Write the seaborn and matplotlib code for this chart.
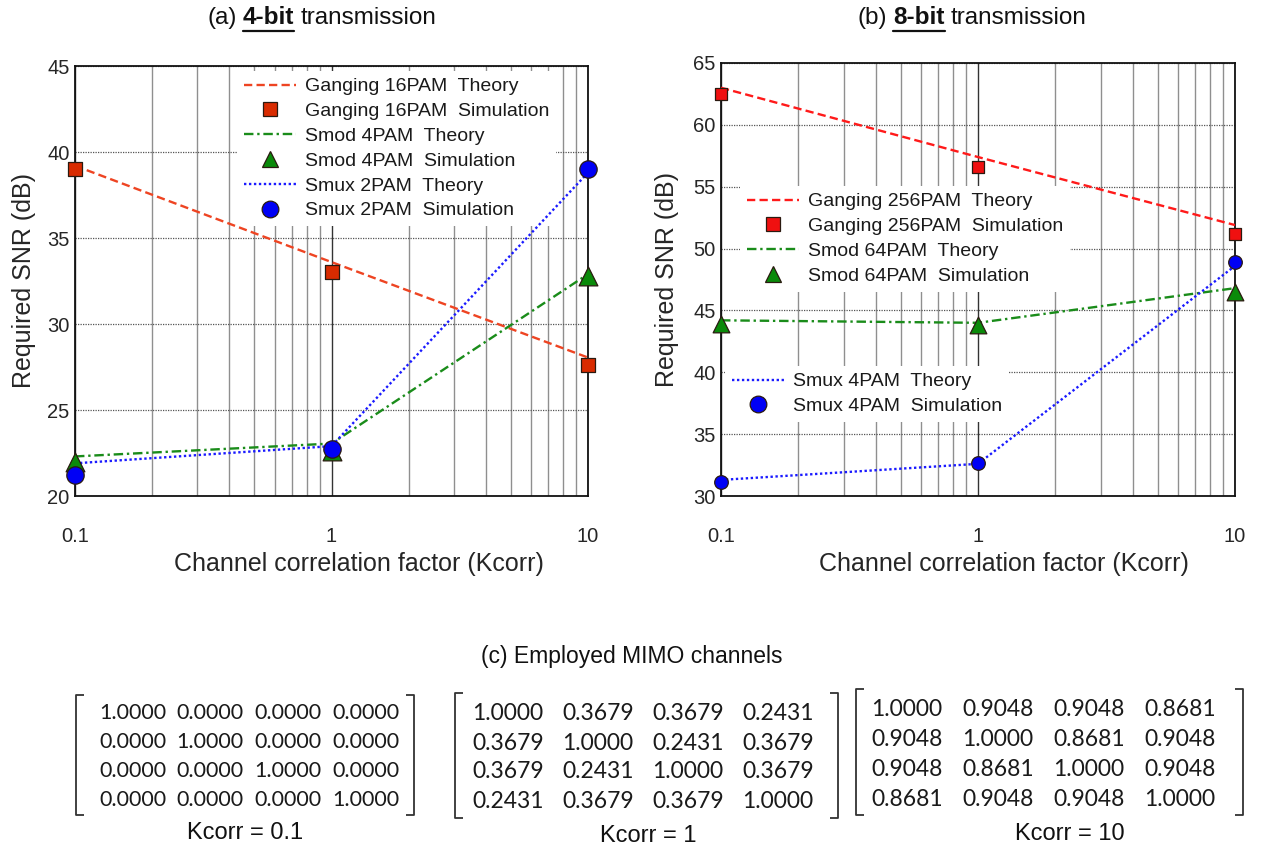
import numpy as np
import pandas as pd
import matplotlib
matplotlib.use("Agg")
import matplotlib.pyplot as plt
import seaborn as sns
from matplotlib.lines import Line2D
from matplotlib.transforms import IdentityTransform

# ---------------- data ----------------
kcorr = [0.1, 1, 10]

a_gang_theory = [39.2, 33.6, 28.05]
a_gang_sim = [39.0, 33.0, 27.6]
a_smod_theory = [22.3, 23.05, 32.9]
a_smod_sim = [22.0, 22.6, 32.8]
a_smux_theory = [21.9, 22.9, 38.8]
a_smux_sim = [21.2, 22.75, 39.0]

b_gang_theory = [63.0, 57.4, 51.9]
b_gang_sim = [62.5, 56.6, 51.2]
b_smod_theory = [44.2, 44.0, 46.8]
b_smod_sim = [43.9, 43.8, 46.5]
b_smux_theory = [31.3, 32.6, 48.6]
b_smux_sim = [31.1, 32.7, 48.9]

a_labels = ["Ganging 16PAM  Theory", "Ganging 16PAM  Simulation",
            "Smod 4PAM  Theory", "Smod 4PAM  Simulation",
            "Smux 2PAM  Theory", "Smux 2PAM  Simulation"]
b_labels = ["Ganging 256PAM  Theory", "Ganging 256PAM  Simulation",
            "Smod 64PAM  Theory", "Smod 64PAM  Simulation",
            "Smux 4PAM  Theory", "Smux 4PAM  Simulation"]

x_ticks = [0.1, 1, 10]
x_ticklabels = ["0.1", "1", "10"]
a_yticks = [20, 25, 30, 35, 40, 45]
b_yticks = [30, 35, 40, 45, 50, 55, 60, 65]

mat_k01 = [[1.0, 0.0, 0.0, 0.0],
           [0.0, 1.0, 0.0, 0.0],
           [0.0, 0.0, 1.0, 0.0],
           [0.0, 0.0, 0.0, 1.0]]
mat_k1 = [[1.0, 0.3679, 0.3679, 0.2431],
          [0.3679, 1.0, 0.2431, 0.3679],
          [0.3679, 0.2431, 1.0, 0.3679],
          [0.2431, 0.3679, 0.3679, 1.0]]
mat_k10 = [[1.0, 0.9048, 0.9048, 0.8681],
           [0.9048, 1.0, 0.8681, 0.9048],
           [0.9048, 0.8681, 1.0, 0.9048],
           [0.8681, 0.9048, 0.9048, 1.0]]
mat_titles = ["Kcorr = 0.1", "Kcorr = 1", "Kcorr = 10"]

# ---------------- style ----------------
sns.set_style("white")
SANS = ["Liberation Sans", "Arial", "DejaVu Sans"]
plt.rcParams["font.family"] = SANS
plt.rcParams["text.color"] = "#111111"

W, H = 1265, 851
fig = plt.figure(figsize=(W / 100, H / 100), dpi=100)

def fx(px):
    return px / W

def fy(py):
    return 1 - py / H

RED_A, RED_A_FILL = "#EE4422", "#D92B00"
RED_B, RED_B_FILL = "#FF1A1A", "#F01010"
GREEN, GREEN_FILL = "#1A8C1A", "#0A8A0A"
BLUE, BLUE_FILL = "#1A1AFF", "#0000F5"

DASH = (0, (3.5, 1.8))
DASHDOT = (0, (4.0, 1.6, 1.0, 1.6))
DOT = (0, (1.0, 1.1))


def draw_panel(ax, ylim, yticks, theo, sims, colors, fills, edge_dark, msizes):
    ax.set_xscale("log")
    styles = [DASH, DASHDOT, DOT]
    markers = ["s", "^", "o"]
    for th, sm, c, fc, ls, mk, ms in zip(theo, sims, colors, fills, styles, markers, msizes):
        sns.lineplot(x=kcorr, y=th, ax=ax, color=c, linestyle=ls, linewidth=1.7,
                     zorder=6, legend=False, errorbar=None)
        sns.scatterplot(x=kcorr, y=sm, ax=ax, marker=mk, s=ms ** 2, color=fc,
                        edgecolor=edge_dark, linewidth=0.9, zorder=7, clip_on=False,
                        legend=False)
    ax.set_xlim(0.1, 10)
    ax.set_ylim(*ylim)
    ax.set_yticks(yticks)
    ax.set_yticklabels([str(v) for v in yticks])
    ax.set_xticks(x_ticks)
    ax.set_xticklabels(x_ticklabels)
    ax.xaxis.set_minor_locator(matplotlib.ticker.LogLocator(base=10, subs=np.arange(2, 10)))
    ax.xaxis.set_minor_formatter(matplotlib.ticker.NullFormatter())
    ax.grid(False)
    ax.grid(which="minor", axis="x", color="#8f8f8f", linewidth=1.0, linestyle="-", zorder=0)
    ax.grid(which="major", axis="x", color="#333333", linewidth=1.0, linestyle="-", zorder=0)
    ax.grid(which="major", axis="y", color="#555555", linewidth=0.9, linestyle=(0, (1, 1)), zorder=0)
    ax.set_axisbelow(True)
    ax.tick_params(axis="x", which="both", direction="in", length=0, pad=22, labelsize=14.5)
    ax.tick_params(axis="y", which="both", direction="in", length=4, pad=4, labelsize=14.5)
    for sp in ax.spines.values():
        sp.set_color("#111111")
        sp.set_linewidth(1.3)
    ax.set_xlabel("Channel correlation factor (Kcorr)", fontsize=18)
    ax.set_ylabel("Required SNR (dB)", fontsize=18)


def legend_handles(colors, fills, edge_dark, lms):
    styles = [DASH, DASHDOT, DOT]
    markers = ["s", "^", "o"]
    hs = []
    for c, fc, ls, mk, ms in zip(colors, fills, styles, markers, lms):
        hs.append(Line2D([], [], color=c, linestyle=ls, linewidth=1.7))
        hs.append(Line2D([], [], linestyle="none", marker=mk, markersize=ms,
                         markerfacecolor=fc, markeredgecolor=edge_dark, markeredgewidth=0.9))
    return hs


def add_legend(ax, handles, labels, left_px, top_px):
    leg = ax.legend(handles, labels, loc="upper left",
                    bbox_to_anchor=(fx(left_px), fy(top_px)), bbox_transform=fig.transFigure,
                    borderaxespad=0, borderpad=0.35, frameon=True, fancybox=False,
                    facecolor="white", edgecolor="none", framealpha=1.0,
                    fontsize=14, handlelength=2.7, handletextpad=0.45,
                    labelspacing=0.37)
    leg.set_zorder(5)
    for t in leg.get_texts():
        t.set_color("#1a1a1a")
    return leg


# ---------------- panel (a) ----------------
ax_a = fig.add_axes([fx(75), fy(496), fx(588) - fx(75), fy(66) - fy(496)])
cols_a = [RED_A, GREEN, BLUE]
fills_a = [RED_A_FILL, GREEN_FILL, BLUE_FILL]
draw_panel(ax_a, (20, 45), a_yticks,
           [a_gang_theory, a_smod_theory, a_smux_theory],
           [a_gang_sim, a_smod_sim, a_smux_sim],
           cols_a, fills_a, "#2a1a10", [10.5, 13.5, 12.5])
add_legend(ax_a, legend_handles(cols_a, fills_a, "#2a1a10", [9.5, 11.5, 12]),
           a_labels, 237, 71)
ax_a.xaxis.set_label_coords(0.553, -0.13)
ax_a.yaxis.set_label_coords(-0.076, 0.5)

# ---------------- panel (b) ----------------
ax_b = fig.add_axes([fx(721), fy(496), fx(1235) - fx(721), fy(63) - fy(496)])
cols_b = [RED_B, GREEN, BLUE]
fills_b = [RED_B_FILL, GREEN_FILL, BLUE_FILL]
draw_panel(ax_b, (30, 65), b_yticks,
           [b_gang_theory, b_smod_theory, b_smux_theory],
           [b_gang_sim, b_smod_sim, b_smux_sim],
           cols_b, fills_b, "#2a1a10", [9.0, 12.0, 9.8])
hb = legend_handles(cols_b, fills_b, "#2a1a10", [9.5, 11.5, 12])
leg1 = add_legend(ax_b, hb[:4], b_labels[:4], 740, 186)
ax_b.add_artist(leg1)
add_legend(ax_b, hb[4:], b_labels[4:], 725, 366)
ax_b.xaxis.set_label_coords(0.551, -0.13)
ax_b.yaxis.set_label_coords(-0.082, 0.5)

# ---------------- titles with underlined bold part ----------------
renderer = fig.canvas.get_renderer()


def styled_title(cx, cy, parts, size):
    size_px = size * 100 / 72
    gap = size_px * 0.27
    objs = []
    for s, bold in parts:
        t = fig.text(0, 0, s, fontsize=size, fontweight="bold" if bold else "normal",
                     transform=IdentityTransform(), ha="left", va="center", color="#111111")
        bb = t.get_window_extent(renderer)
        objs.append((t, bb.width, bold))
    total = sum(w for _, w, _ in objs) + gap * (len(objs) - 1)
    x = cx - total / 2
    y = H - cy
    for t, w, bold in objs:
        t.set_position((x, y))
        if bold:
            yu = y - size_px * 0.52
            fig.add_artist(Line2D([x, x + w], [yu, yu], transform=IdentityTransform(),
                                  color="#111111", linewidth=1.6))
        x += w + gap


styled_title(322, 18, [("(a)", False), ("4-bit", True), ("transmission", False)], 17.5)
styled_title(972, 18, [("(b)", False), ("8-bit", True), ("transmission", False)], 17.5)

# ---------------- panel (c): matrices ----------------
ax_c = fig.add_axes([0, 0, 1, 1], zorder=-1)
ax_c.set_xlim(0, W)
ax_c.set_ylim(H, 0)
ax_c.set_axis_off()

ax_c.text(632, 656, "(c) Employed MIMO channels", fontsize=16.5, ha="center", va="center",
          color="#111111")

MFONT = ["Lato", "Open Sans", "DejaVu Sans"]


def draw_matrix(mat, col_x, row_y, fs, br_l, br_r, br_t, br_b, title, title_xy):
    for i, row in enumerate(mat):
        for j, v in enumerate(row):
            ax_c.text(col_x[j], row_y[i], f"{v:.4f}", fontsize=fs, ha="center", va="center",
                      family=MFONT, color="#1a1a1a")
    serif = 8
    kw = dict(color="#333333", linewidth=1.3, solid_capstyle="butt")
    ax_c.plot([br_l + serif, br_l, br_l, br_l + serif], [br_t, br_t, br_b, br_b], **kw)
    ax_c.plot([br_r - serif, br_r, br_r, br_r - serif], [br_t, br_t, br_b, br_b], **kw)
    ax_c.text(title_xy[0], title_xy[1], title, fontsize=17, ha="center", va="center",
              color="#111111")


draw_matrix(mat_k01, [133, 210, 288, 366], [713, 742, 771, 800], 15.5,
            76, 414, 695, 815, mat_titles[0], (245, 833))
draw_matrix(mat_k1, [508, 598, 688, 778], [713, 743, 772, 802], 16.5,
            455, 838, 693, 818, mat_titles[1], (648, 836))
draw_matrix(mat_k10, [907, 998, 1089, 1180], [709, 739, 769, 799], 16.5,
            856, 1243, 689, 815, mat_titles[2], (1070, 834))

fig.savefig("out.png", dpi=100)
